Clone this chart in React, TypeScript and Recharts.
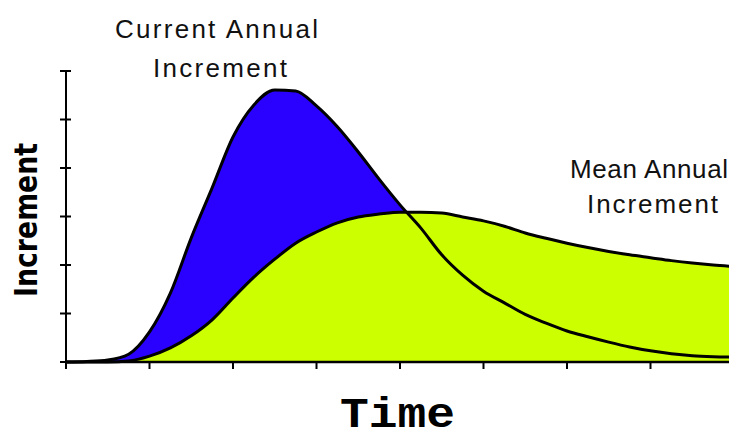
import { ComposedChart, Area, Line, XAxis, YAxis } from 'recharts';

// time steps (quarter units), current + mean annual increment
const time = [
  0, 0.25, 0.5, 0.75, 1, 1.25, 1.5, 1.75, 2, 2.25, 2.5, 2.75, 3, 3.25, 3.5, 3.75, 4,
  4.25, 4.5, 4.75, 5, 5.25, 5.5, 5.75, 6, 6.25, 6.5, 6.75, 7, 7.25, 7.5, 7.75, 8,
];
const cai = [
  0, 0.01, 0.04, 0.16, 0.62, 1.42, 2.56, 3.59, 4.64, 5.3, 5.61, 5.59, 5.28, 4.85, 4.33, 3.77, 3.24,
  2.76, 2.21, 1.79, 1.46, 1.22, 0.98, 0.8, 0.64, 0.52, 0.41, 0.31, 0.23, 0.17, 0.13, 0.11, 0.1,
];
const mai = [
  0, 0, 0, 0.02, 0.12, 0.29, 0.54, 0.87, 1.32, 1.75, 2.12, 2.45, 2.68, 2.87, 2.99, 3.05, 3.09,
  3.09, 3.07, 2.99, 2.91, 2.8, 2.66, 2.55, 2.45, 2.36, 2.28, 2.21, 2.15, 2.09, 2.04, 2.0, 1.97,
];
const xTicks = [0, 1, 2, 3, 4, 5, 6, 7];
const yTicks = [0, 1, 2, 3, 4, 5, 6];

const data = time.map((t, i) => ({ t, cai: cai[i], mai: mai[i] }));

// ticks drawn by hand so they cross the axis like the original
function XTick({ x, y }: { x?: number; y?: number }) {
  return <line x1={x} x2={x} y1={y} y2={(y ?? 0) + 7} stroke="#000" strokeWidth={2} />;
}
function YTick({ x, y }: { x?: number; y?: number }) {
  return <line x1={(x ?? 0) - 6} x2={(x ?? 0) + 5} y1={y} y2={y} stroke="#000" strokeWidth={2} />;
}

const note = { fontFamily: 'Liberation Sans', fontSize: 26, fill: '#111' };

export default function App() {
  return (
    <div style={{ position: 'absolute', left: 0, top: 0, width: 729, height: 431, overflow: 'hidden', background: '#fff' }}>
      <ComposedChart width={734} height={431} data={data} margin={{ top: 71, right: 0, left: 60, bottom: 0 }}>
        <XAxis
          dataKey="t"
          type="number"
          domain={[0, 8]}
          ticks={xTicks}
          height={69}
          tickSize={0}
          tickMargin={0}
          tickLine={false}
          tick={<XTick />}
          axisLine={{ stroke: '#000', strokeWidth: 2.5 }}
        />
        <YAxis
          type="number"
          domain={[0, 6]}
          ticks={yTicks}
          width={6}
          tickSize={0}
          tickMargin={0}
          tickLine={false}
          tick={<YTick />}
          axisLine={{ stroke: '#000', strokeWidth: 2 }}
        />
        <Area dataKey="cai" type="monotone" fill="#2a00ff" fillOpacity={1} stroke="none" isAnimationActive={false} />
        <Area dataKey="mai" type="monotone" fill="#ccff00" fillOpacity={1} stroke="#000" strokeWidth={3} isAnimationActive={false} />
        <Line dataKey="cai" type="monotone" stroke="#000" strokeWidth={3} dot={false} isAnimationActive={false} />
      </ComposedChart>
      <svg width={729} height={431} style={{ position: 'absolute', left: 0, top: 0, pointerEvents: 'none' }}>
        <text x={115} y={38} textLength={203} lengthAdjust="spacing" {...note}>Current Annual</text>
        <text x={153} y={77} textLength={134} lengthAdjust="spacing" {...note}>Increment</text>
        <text x={570} y={178} textLength={158} lengthAdjust="spacing" {...note}>Mean Annual</text>
        <text x={587} y={213} textLength={131} lengthAdjust="spacing" {...note}>Increment</text>
        <text
          x={340}
          y={427}
          textLength={115}
          lengthAdjust="spacingAndGlyphs"
          style={{ fontFamily: 'Liberation Mono', fontWeight: 700, fontSize: 42, fill: '#000' }}
        >
          Time
        </text>
        <text
          x={37}
          y={220}
          transform="rotate(-90 37 220)"
          textAnchor="middle"
          textLength={154}
          lengthAdjust="spacingAndGlyphs"
          style={{ fontFamily: 'DejaVu Sans', fontWeight: 900, fontSize: 32, fill: '#000' }}
        >
          Increment
        </text>
      </svg>
    </div>
  );
}
